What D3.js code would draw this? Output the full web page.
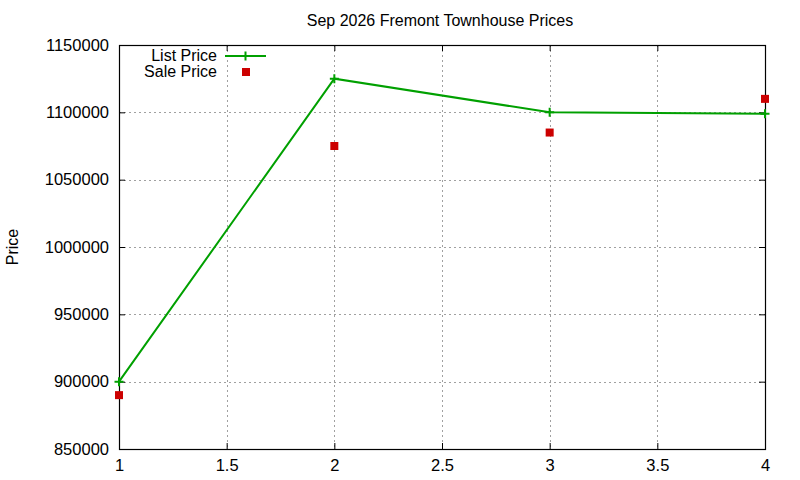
<!DOCTYPE html>
<html>
<head>
<meta charset="utf-8">
<script src="https://cdn.jsdelivr.net/npm/d3@7"></script>
<style>
  body { margin: 0; background: #fff; }
  svg text { font-family: "Liberation Sans", Arial, sans-serif; fill: #000; }
</style>
</head>
<body>
<div id="chart"></div>
<script>
const TITLE = "Sep 2026 Fremont Townhouse Prices";
const Y_LABEL = "Price";
const X_VALUES = [1, 2, 3, 4];
const LIST_PRICE = [900000, 1125000, 1100000, 1099000];
const SALE_PRICE = [890000, 1075000, 1085000, 1110000];
const X_TICKS = [1, 1.5, 2, 2.5, 3, 3.5, 4];
const Y_TICKS = [850000, 900000, 950000, 1000000, 1050000, 1100000, 1150000];

const width = 800;
const height = 480;
const margin = { top: 45, right: 35, bottom: 31, left: 119 };
const innerWidth = width - margin.left - margin.right;
const innerHeight = height - margin.top - margin.bottom;

const svg = d3.select("#chart")
  .append("svg")
  .attr("width", width)
  .attr("height", height);

const g = svg.append("g")
  .attr("transform", `translate(${margin.left},${margin.top})`);

const x = d3.scaleLinear().domain([1, 4]).range([0, innerWidth]);
const y = d3.scaleLinear().domain([850000, 1150000]).range([innerHeight, 0]);

// grid
const grid = g.append("g")
  .attr("stroke", "#a0a0a0")
  .attr("stroke-width", 1)
  .attr("stroke-dasharray", "2 3");

grid.selectAll("line.vx")
  .data(X_TICKS.slice(1, -1))
  .join("line")
  .attr("x1", (d) => Math.round(x(d)) + 0.5)
  .attr("x2", (d) => Math.round(x(d)) + 0.5)
  .attr("y1", 0)
  .attr("y2", innerHeight);

grid.selectAll("line.hy")
  .data(Y_TICKS.slice(1, -1))
  .join("line")
  .attr("x1", 0)
  .attr("x2", innerWidth)
  .attr("y1", (d) => Math.round(y(d)) + 0.5)
  .attr("y2", (d) => Math.round(y(d)) + 0.5);

// axes (ticks inside, mirrored)
const xBottom = g.append("g")
  .attr("transform", `translate(0,${innerHeight})`)
  .call(d3.axisBottom(x).tickValues(X_TICKS).tickSizeInner(-6).tickSizeOuter(0).tickPadding(10).tickFormat(d3.format("")));
const xTop = g.append("g")
  .call(d3.axisTop(x).tickValues(X_TICKS).tickSizeInner(-6).tickSizeOuter(0));
const yLeft = g.append("g")
  .call(d3.axisLeft(y).tickValues(Y_TICKS).tickSizeInner(-6).tickSizeOuter(0).tickPadding(10).tickFormat(d3.format("d")));
const yRight = g.append("g")
  .attr("transform", `translate(${innerWidth},0)`)
  .call(d3.axisRight(y).tickValues(Y_TICKS).tickSizeInner(-6).tickSizeOuter(0));

xTop.selectAll("text").remove();
yRight.selectAll("text").remove();

[xBottom, xTop, yLeft, yRight].forEach((a) => {
  a.select(".domain").remove();
  a.selectAll("line").attr("stroke", "#000");
  a.selectAll("text").style("font-size", "16.5px").attr("fill", "#000");
});

g.append("rect")
  .attr("x", 0.5)
  .attr("y", 0.5)
  .attr("width", innerWidth)
  .attr("height", innerHeight)
  .attr("fill", "none")
  .attr("stroke", "#000")
  .attr("stroke-width", 1.2);

// title and axis label
svg.append("text")
  .attr("x", 440)
  .attr("y", 26)
  .attr("text-anchor", "middle")
  .style("font-size", "16px")
  .text(TITLE);

svg.append("text")
  .attr("transform", "translate(18,247) rotate(-90)")
  .attr("text-anchor", "middle")
  .style("font-size", "16px")
  .text(Y_LABEL);

// list price line
const listData = X_VALUES.map((v, i) => [v, LIST_PRICE[i]]);
g.append("path")
  .datum(listData)
  .attr("fill", "none")
  .attr("stroke", "#00a000")
  .attr("stroke-width", 2)
  .attr("d", d3.line().x((d) => x(d[0])).y((d) => y(d[1])));

const plus = (sel, cx, cy) => {
  sel.append("path")
    .attr("d", `M${cx - 4.5},${cy}H${cx + 4.5}M${cx},${cy - 4.5}V${cy + 4.5}`)
    .attr("stroke", "#00a000")
    .attr("stroke-width", 2);
};

listData.forEach((d) => plus(g, x(d[0]), y(d[1])));

// sale price squares
g.selectAll("rect.sale")
  .data(X_VALUES.map((v, i) => [v, SALE_PRICE[i]]))
  .join("rect")
  .attr("class", "sale")
  .attr("x", (d) => x(d[0]) - 4)
  .attr("y", (d) => y(d[1]) - 4)
  .attr("width", 8)
  .attr("height", 8)
  .attr("fill", "#cc0000");

// legend
const legend = svg.append("g");
legend.append("text")
  .attr("x", 217)
  .attr("y", 61)
  .attr("text-anchor", "end")
  .style("font-size", "16px")
  .text("List Price");
legend.append("line")
  .attr("x1", 225)
  .attr("x2", 266)
  .attr("y1", 56)
  .attr("y2", 56)
  .attr("stroke", "#00a000")
  .attr("stroke-width", 2);
plus(legend, 245.5, 56);
legend.append("text")
  .attr("x", 217)
  .attr("y", 77)
  .attr("text-anchor", "end")
  .style("font-size", "16px")
  .text("Sale Price");
legend.append("rect")
  .attr("x", 242)
  .attr("y", 68)
  .attr("width", 8)
  .attr("height", 8)
  .attr("fill", "#cc0000");
</script>
</body>
</html>
